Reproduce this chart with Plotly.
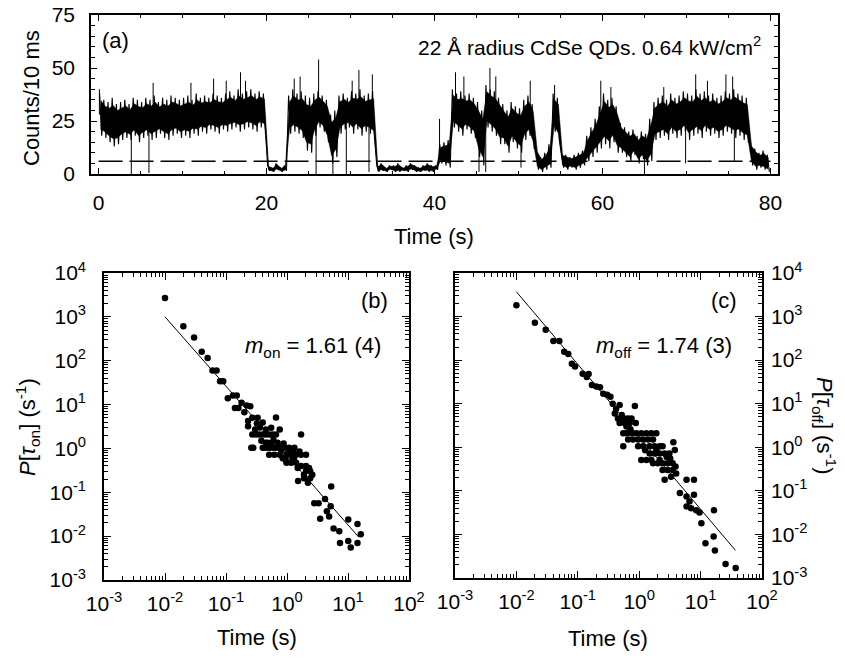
import plotly.graph_objects as go

# ---------------- Panel (a): intensity time trace (0.5 s bins: upper / lower envelope) ----------------
bin_width = 0.5
trace_hi = [38,35,34,36,33,34,35,33,36,35, 34,36,35,37,34,36,35,37,36,35,
            36,37,35,38,36,37,36,38,37,36, 38,39,37,40,38,39,40,38,39,38,
            4,3,5,3,4,
            37,
            40,38,39,37,36,
            38,39,37,35,
            28,30,
            37,38,36,39,38,40,37,38,39,
            4,5,3,4,4,5,3,4,5,4,3,4,5,4,4,
            14,15,16,
            40,38,39,37,38,36,
            34,30,
            42,40,39,36,
            33,30,34,32,31,35,37,33,
            12,8,10,14,
            38,36,
            10,9,8,9,10,11,
            18,22,26,32,
            38,35,36,32,
            24,22,20,21,18,20,19,
            26,34,
            36,37,35,38,36,37,39,38,37,40,38,39,37,38,36,37,39,38,40,38,37,36,
            15,12,10,11,9]
trace_lo = [18,17,15,13,14,16,17,16,18,15, 17,18,16,17,19,17,16,18,19,17,
            18,17,19,18,20,19,21,20,19,21, 20,21,22,20,21,22,21,20,22,21,
            1.5,1,2,1,1.5,
            19,
            20,19,17,11,10,
            18,22,20,15,
            5,8,
            19,21,22,19,21,18,20,19,17,
            1,1.5,1,2,1,1,1.5,1,2,1,1,1.5,1,1,2,
            5,4,3,
            22,20,18,21,19,17,
            8,4,
            22,20,18,14,
            14,10,15,12,10,16,18,12,
            2,1,2,3,
            20,16,
            3,2,3,2,3,4,
            6,8,10,12,
            14,12,15,10,
            10,8,6,9,5,7,4,
            6,16,
            17,18,16,19,17,18,20,16,18,19,17,20,18,19,17,18,20,19,17,18,16,15,
            4,2,3,2,1]
spike_t = [0.1, 3.9, 6.0, 6.5, 11.0, 13.7, 15.2, 16.9, 17.5, 23.3, 24.0, 25.9, 26.2, 27.9,
           29.5, 30.2, 31.0, 32.2, 32.6, 40.6, 42.5, 43.5, 45.3, 46.1, 46.6, 47.3, 50.3,
           51.4, 54.3, 59.8, 61.0, 65.0, 67.3, 69.9, 71.1, 72.5, 74.7, 75.5, 75.7]
spike_y = [40, 0, 0.5, 43, 43, 45, 44, 48, 44, 45, 46, 0, 54, 0,
           0, 44, 49, 1, 47, 26, 48, 46, 1, 1, 50, 46, 3,
           44, 42, 44, 41, 1, 41, 5, 47, 44, 47, 46, 6]
threshold = 6
time_axis_ticks = [0, 20, 40, 60, 80]
count_ticks = [0, 25, 50, 75]

# ---------------- Panel (b): on-time probability density ----------------
b_time = [0.01,0.02,0.03,0.04,0.05,0.06,0.07,0.08,0.09,0.107,
          0.13,0.15,0.14,0.16,0.18,0.22,0.25,0.20,0.23,0.23,
          0.27,0.33,0.32,0.40,
          0.27,0.31,0.35,0.40,0.45,0.51,0.58,0.66,
          0.26,0.28,0.40,0.45,0.51,0.58,0.66,0.76,0.91,
          0.66,0.55,0.45,0.76,
          0.45,0.55,0.70,
          0.51,0.62,0.76,0.98,1.17,1.41,1.7,2.05,
          1.08,1.32,1.7,
          0.98,1.17,1.41,1.7,2.05,
          1.24,1.5,2.05,2.3,
          0.85,1.0,1.3,2.6,2.4,1.9,
          1.52,1.9,2.2,2.4,
          0.30,0.36,0.38,0.48,0.60,0.88,1.1,1.25,0.8,0.95,1.6,0.7,
          5.3,2.8,3.3,3.5,4.2,4.9,4.5,5.2,5.8,7.2,7.4,
          10.1,10.1,11.1,14.3,14.3,16.2]
b_prob = [2700,610,340,160,115,60,60,34,34,14,
          16,16,8.4,8.4,11,9.5,9.2,6.7,4.2,3.2,
          5.0,5.0,3.7,3.9,
          2.07,2.07,2.07,2.07,2.07,2.07,2.07,2.07,
          1.03,1.03,1.03,1.03,1.03,1.03,1.03,1.03,1.03,
          5.1,2.96,2.7,2.7,
          1.35,1.35,1.35,
          0.72,0.72,0.72,0.72,0.72,0.72,0.72,0.72,
          1.03,1.03,2.07,
          0.47,0.47,0.47,0.40,0.40,
          0.55,0.36,0.31,0.36,
          0.6,0.75,0.6,0.25,0.30,0.25,
          0.18,0.21,0.166,0.21,
          2.7,3.0,1.5,1.35,1.55,1.3,0.9,0.85,0.9,0.55,0.85,1.2,
          0.135,0.056,0.056,0.025,0.07,0.028,0.037,0.048,0.015,0.013,0.007,
          0.024,0.0078,0.0055,0.019,0.007,0.011]
b_fit_time = [0.01, 15]
b_fit_prob = [1000, 0.0095]

# ---------------- Panel (c): off-time probability density ----------------
c_time = [0.01,0.02,0.03,0.04,0.05,0.06,0.07,0.08,0.09,0.12,
          0.14,0.15,0.17,0.20,0.23,0.26,0.30,0.34,0.37,0.42,0.48,0.85,
          0.45,0.51,0.58,0.66,0.75,
          0.48,0.58,0.70,0.88,
          0.55,0.62,0.75,0.90,1.08,1.31,1.58,1.9,
          0.55,
          0.66,0.79,0.96,1.16,1.4,1.68,
          0.96,1.16,1.48,1.78,2.15,2.4,
          1.08,1.31,1.58,2.15,
          1.48,1.78,2.15,2.6,3.1,
          3.6,3.8,
          1.68,2.0,2.4,2.9,3.5,
          2.4,2.9,3.5,3.9,
          2.6,3.3,4.0,
          0.40,0.52,0.62,0.72,1.25,1.9,2.8,3.2,
          5.9,7.8,4.6,5.9,6.6,7.8,5.9,7.0,8.5,9.6,10.3,16.5,
          12.0,16.3,17.1,25.5,37.3]
c_prob = [1820,720,500,275,275,155,138,83,71,49,
          41,48,27,25,24,17,16,14.5,10,7.7,9.3,8.9,
          4.6,4.6,4.6,4.6,4.6,
          3.6,3.6,3.6,3.6,
          2.1,2.1,2.1,2.1,2.1,2.1,2.1,2.1,
          1.05,
          1.5,1.5,1.5,1.5,1.5,1.5,
          1.05,1.05,1.05,1.05,1.05,1.05,
          0.51,0.51,0.51,0.51,
          0.72,0.72,0.72,0.72,0.72,
          1.3,0.87,
          0.43,0.43,0.43,0.43,0.43,
          0.3,0.3,0.3,0.36,
          0.18,0.21,0.25,
          6.0,5.5,3.0,2.6,0.85,0.9,0.6,0.55,
          0.18,0.18,0.089,0.074,0.057,0.081,0.044,0.04,0.036,0.032,0.018,0.036,
          0.0063,0.009,0.0043,0.0021,0.0017]
c_fit_time = [0.01, 37]
c_fit_prob = [3700, 0.0043]

log_ticks = [1e-3, 1e-2, 1e-1, 1e0, 1e1, 1e2, 1e3, 1e4]
log_labels = ["10<sup>-3</sup>", "10<sup>-2</sup>", "10<sup>-1</sup>", "10<sup>0</sup>",
              "10<sup>1</sup>", "10<sup>2</sup>", "10<sup>3</sup>", "10<sup>4</sup>"]

# ---------------- figure ----------------
W, H = 845, 658
FONT = "Liberation Sans, Arial, Helvetica, sans-serif"


def px(x):
    return x / W


def py(y):
    return 1 - y / H


fig = go.Figure()

centers = [bin_width * i + bin_width / 2 for i in range(len(trace_hi))]
# dense core of each bin (drawn as a filled band) ...
core_top = [l + 0.84 * (h - l) for h, l in zip(trace_hi, trace_lo)]
core_bot = [l + 0.16 * (h - l) for h, l in zip(trace_hi, trace_lo)]
fig.add_trace(go.Scatter(x=centers, y=core_bot, mode="lines",
                         line=dict(color="black", width=0.5), xaxis="x", yaxis="y",
                         hoverinfo="skip"))
fig.add_trace(go.Scatter(x=centers, y=core_top, mode="lines", fill="tonexty",
                         fillcolor="black", line=dict(color="black", width=0.5),
                         xaxis="x", yaxis="y", hoverinfo="skip"))
# ... and the full excursions of each bin as a zig-zag between envelopes
zx, zy = [], []
for i, (h, l) in enumerate(zip(trace_hi, trace_lo)):
    c = centers[i]
    zx += [c - bin_width / 4, c + bin_width / 4]
    zy += [h, l]
fig.add_trace(go.Scatter(x=zx, y=zy, mode="lines", line=dict(color="black", width=1.1),
                         xaxis="x", yaxis="y", hoverinfo="skip"))
sx, sy = [], []
for t, v in zip(spike_t, spike_y):
    k = min(int(t // bin_width), len(trace_hi) - 1)
    base = (trace_hi[k] + trace_lo[k]) / 2
    sx += [t, t, None]
    sy += [base, v, None]
fig.add_trace(go.Scatter(x=sx, y=sy, mode="lines", line=dict(color="black", width=1),
                         xaxis="x", yaxis="y", hoverinfo="skip"))
fig.add_trace(go.Scatter(x=[0, 80], y=[threshold, threshold], mode="lines",
                         line=dict(color="black", width=1.5, dash="24px,7px"),
                         xaxis="x", yaxis="y"))

fig.add_trace(go.Scatter(x=b_time, y=b_prob, mode="markers",
                         marker=dict(color="black", size=6.5), xaxis="x2", yaxis="y2"))
fig.add_trace(go.Scatter(x=b_fit_time, y=b_fit_prob, mode="lines",
                         line=dict(color="black", width=1), xaxis="x2", yaxis="y2"))
fig.add_trace(go.Scatter(x=c_time, y=c_prob, mode="markers",
                         marker=dict(color="black", size=6.5), xaxis="x3", yaxis="y3"))
fig.add_trace(go.Scatter(x=c_fit_time, y=c_fit_prob, mode="lines",
                         line=dict(color="black", width=1), xaxis="x3", yaxis="y3"))

minor_log = [k * 10 ** e for e in range(-3, 4) for k in range(2, 10)]

common = dict(showline=True, linecolor="black", linewidth=1.6, mirror="allticks",
              ticks="inside", tickcolor="black", tickwidth=1.2, showgrid=False,
              zeroline=False, tickfont=dict(family=FONT, size=21, color="black"),
              automargin=False)

fig.update_layout(
    width=W, height=H, margin=dict(l=0, r=0, t=0, b=0),
    paper_bgcolor="white", plot_bgcolor="white", showlegend=False,
    font=dict(family=FONT, color="black"),
    xaxis=dict(domain=[px(91), px(778)], range=[-0.9, 80.9], anchor="y",
               tickmode="array", tickvals=time_axis_ticks, ticklen=6,
               minor=dict(ticks="inside", ticklen=3, tickcolor="black", dtick=5, tick0=0),
               ticklabelstandoff=9, **common),
    yaxis=dict(domain=[py(174), py(15)], range=[0, 75], anchor="x",
               tickmode="array", tickvals=count_ticks, ticklen=6,
               minor=dict(ticks="inside", ticklen=4, tickcolor="black", dtick=5, tick0=0),
               ticklabelstandoff=10, **common),
    xaxis2=dict(type="log", domain=[px(104), px(409)], range=[-3, 2], anchor="y2",
                tickmode="array", tickvals=log_ticks[:6], ticktext=log_labels[:6], ticklen=7,
                minor=dict(ticks="inside", ticklen=4, tickcolor="black", tickvals=minor_log),
                ticklabelstandoff=4, **common),
    yaxis2=dict(type="log", domain=[py(580), py(273)], range=[-3, 4], anchor="x2",
                tickmode="array", tickvals=log_ticks, ticktext=log_labels, ticklen=7,
                minor=dict(ticks="inside", ticklen=4, tickcolor="black", tickvals=minor_log),
                ticklabelstandoff=12, **common),
    xaxis3=dict(type="log", domain=[px(455), px(762)], range=[-3, 2], anchor="y3",
                tickmode="array", tickvals=log_ticks[:6], ticktext=log_labels[:6], ticklen=7,
                minor=dict(ticks="inside", ticklen=4, tickcolor="black", tickvals=minor_log),
                ticklabelstandoff=4, **common),
    yaxis3=dict(type="log", domain=[py(578), py(273)], range=[-3, 4], anchor="x3",
                side="right",
                tickmode="array", tickvals=log_ticks, ticktext=log_labels, ticklen=7,
                minor=dict(ticks="inside", ticklen=4, tickcolor="black", tickvals=minor_log),
                ticklabelstandoff=3, **common),
)


def ann(text, x, y, size=22, angle=0, xanchor="center"):
    fig.add_annotation(text=text, x=px(x), y=py(y), xref="paper", yref="paper",
                       showarrow=False, textangle=angle, xanchor=xanchor, yanchor="middle",
                       font=dict(family=FONT, size=size, color="black"))


ann("Counts/10 ms", 31, 98, angle=-90)
ann("Time (s)", 434, 236)
ann("Time (s)", 257, 637)
ann("Time (s)", 608, 638)
ann("<i>P</i>[<i>τ</i><sub>on</sub>] (s<sup>-1</sup>)", 27, 427, angle=-90)
ann("<i>P</i>[<i>τ</i><sub>off</sub>] (s<sup>-1</sup>)", 825, 425, angle=90)
ann("(a)", 115, 40)
ann("22 Å radius CdSe QDs. 0.64 kW/cm<sup>2</sup>", 763, 46, size=21, xanchor="right")
ann("(b)", 374, 301)
ann("(c)", 724, 300)
ann("<i>m</i><sub>on</sub> = 1.61 (4)", 383, 347, xanchor="right")
ann("<i>m</i><sub>off</sub> = 1.74 (3)", 734, 347, xanchor="right")

fig.write_html("out.html")
